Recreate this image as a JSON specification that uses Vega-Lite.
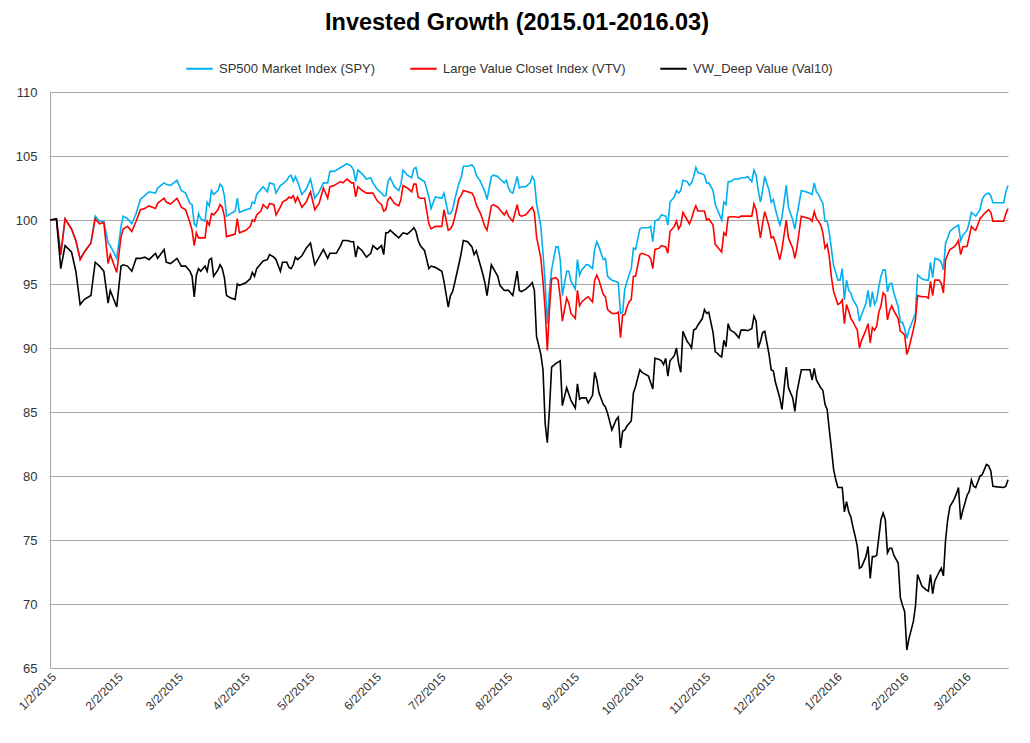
{
"$schema": "https://vega.github.io/schema/vega-lite/v6.json",
"width": 958, "height": 576,
"autosize": {"type": "none"},
"padding": {"left": 50, "top": 92, "right": 22, "bottom": 75},
"background": "white",
"title": {"text": "Invested Growth (2015.01-2016.03)", "font": "Liberation Sans", "fontSize": 23.5, "fontWeight": "bold", "color": "#000000", "anchor": "middle", "offset": 20, "dx": -12},
"data": {"values": [
{"t":"2015-01-02","s":100,"v":100,"d":100},
{"t":"2015-01-05","s":100.05,"v":100.05,"d":100.1},
{"t":"2015-01-07","s":97.3,"v":97.3,"d":96.2},
{"t":"2015-01-09","s":100.1,"v":100.1,"d":98.0},
{"t":"2015-01-12","s":99.3,"v":99.3,"d":97.5},
{"t":"2015-01-14","s":98.4,"v":98.4,"d":96.0},
{"t":"2015-01-16","s":97.0,"v":96.9,"d":93.4},
{"t":"2015-01-18","s":97.5,"v":97.5,"d":93.8},
{"t":"2015-01-21","s":98.2,"v":98.2,"d":94.1},
{"t":"2015-01-23","s":100.3,"v":100.1,"d":96.7},
{"t":"2015-01-25","s":99.9,"v":99.7,"d":96.4},
{"t":"2015-01-27","s":99.9,"v":99.8,"d":96.0},
{"t":"2015-01-29","s":98.2,"v":96.6,"d":93.5},
{"t":"2015-01-30","s":98.0,"v":97.3,"d":94.5},
{"t":"2015-02-02","s":97.0,"v":95.9,"d":93.2},
{"t":"2015-02-04","s":99.5,"v":98.7,"d":96.4},
{"t":"2015-02-05","s":100.3,"v":99.3,"d":96.5},
{"t":"2015-02-07","s":100.1,"v":99.5,"d":96.4},
{"t":"2015-02-09","s":99.7,"v":99.1,"d":96.0},
{"t":"2015-02-11","s":100.5,"v":99.9,"d":97.0},
{"t":"2015-02-13","s":101.6,"v":100.8,"d":97.0},
{"t":"2015-02-15","s":101.9,"v":100.9,"d":97.1},
{"t":"2015-02-17","s":102.2,"v":101.1,"d":96.9},
{"t":"2015-02-20","s":102.1,"v":100.9,"d":97.4},
{"t":"2015-02-21","s":102.5,"v":101.3,"d":97.0},
{"t":"2015-02-24","s":102.9,"v":101.7,"d":97.7},
{"t":"2015-02-25","s":102.8,"v":101.4,"d":96.7},
{"t":"2015-02-27","s":102.7,"v":101.25,"d":96.6},
{"t":"2015-03-02","s":103.1,"v":101.7,"d":97.0},
{"t":"2015-03-04","s":102.3,"v":101.0,"d":96.4},
{"t":"2015-03-06","s":102.1,"v":100.8,"d":96.4},
{"t":"2015-03-08","s":101.3,"v":99.8,"d":96.0},
{"t":"2015-03-09","s":101.2,"v":99.2,"d":95.6},
{"t":"2015-03-10","s":99.7,"v":98.0,"d":94.0},
{"t":"2015-03-11","s":99.5,"v":99.0,"d":95.7},
{"t":"2015-03-12","s":100.5,"v":98.6,"d":96.2},
{"t":"2015-03-13","s":100.1,"v":98.6,"d":96.0},
{"t":"2015-03-15","s":99.9,"v":98.6,"d":96.4},
{"t":"2015-03-16","s":101.4,"v":99.9,"d":96.0},
{"t":"2015-03-17","s":101.1,"v":99.6,"d":96.9},
{"t":"2015-03-18","s":102.3,"v":100.5,"d":97.0},
{"t":"2015-03-19","s":102.0,"v":100.4,"d":95.6},
{"t":"2015-03-21","s":102.3,"v":100.8,"d":96.1},
{"t":"2015-03-22","s":102.8,"v":101.2,"d":96.5},
{"t":"2015-03-23","s":102.6,"v":101.0,"d":96.2},
{"t":"2015-03-24","s":101.9,"v":100.3,"d":95.5},
{"t":"2015-03-25","s":100.3,"v":98.7,"d":94.1},
{"t":"2015-03-27","s":100.5,"v":98.8,"d":93.9},
{"t":"2015-03-29","s":100.7,"v":98.9,"d":93.8},
{"t":"2015-03-30","s":101.7,"v":100.1,"d":95.0},
{"t":"2015-03-31","s":100.6,"v":99.0,"d":94.9},
{"t":"2015-04-03","s":100.8,"v":99.2,"d":95.1},
{"t":"2015-04-05","s":100.9,"v":99.5,"d":95.4},
{"t":"2015-04-06","s":101.4,"v":100.0,"d":95.9},
{"t":"2015-04-07","s":101.3,"v":99.9,"d":95.6},
{"t":"2015-04-08","s":102.0,"v":100.4,"d":96.2},
{"t":"2015-04-10","s":102.4,"v":100.7,"d":96.6},
{"t":"2015-04-11","s":102.6,"v":101.2,"d":96.8},
{"t":"2015-04-13","s":102.2,"v":100.9,"d":96.9},
{"t":"2015-04-14","s":102.9,"v":101.3,"d":97.3},
{"t":"2015-04-16","s":102.8,"v":101.2,"d":97.1},
{"t":"2015-04-17","s":102.1,"v":100.4,"d":96.9},
{"t":"2015-04-19","s":102.7,"v":101.0,"d":96.0},
{"t":"2015-04-20","s":102.8,"v":101.4,"d":96.7},
{"t":"2015-04-22","s":103.1,"v":101.6,"d":96.7},
{"t":"2015-04-23","s":103.4,"v":101.8,"d":96.3},
{"t":"2015-04-24","s":103.5,"v":101.7,"d":96.2},
{"t":"2015-04-25","s":103.0,"v":101.9,"d":96.5},
{"t":"2015-04-26","s":103.4,"v":101.4,"d":97.1},
{"t":"2015-04-27","s":103.0,"v":101.8,"d":96.9},
{"t":"2015-04-29","s":102.0,"v":101.0,"d":97.2},
{"t":"2015-05-01","s":102.4,"v":101.4,"d":97.8},
{"t":"2015-05-03","s":103.2,"v":102.2,"d":98.2},
{"t":"2015-05-05","s":101.7,"v":100.8,"d":96.5},
{"t":"2015-05-07","s":102.2,"v":101.3,"d":97.1},
{"t":"2015-05-09","s":102.9,"v":102.5,"d":97.7},
{"t":"2015-05-11","s":102.9,"v":101.7,"d":97.0},
{"t":"2015-05-12","s":103.8,"v":102.6,"d":97.4},
{"t":"2015-05-14","s":103.8,"v":102.7,"d":97.4},
{"t":"2015-05-15","s":103.9,"v":102.8,"d":97.4},
{"t":"2015-05-17","s":104.1,"v":103.0,"d":98.0},
{"t":"2015-05-18","s":104.2,"v":102.9,"d":98.4},
{"t":"2015-05-20","s":104.4,"v":103.2,"d":98.4},
{"t":"2015-05-22","s":104.2,"v":102.9,"d":98.3},
{"t":"2015-05-23","s":103.9,"v":102.9,"d":98.3},
{"t":"2015-05-24","s":103.0,"v":101.8,"d":97.1},
{"t":"2015-05-25","s":103.9,"v":102.6,"d":97.9},
{"t":"2015-05-27","s":103.6,"v":102.3,"d":97.6},
{"t":"2015-05-29","s":103.2,"v":102.1,"d":97.1},
{"t":"2015-05-31","s":103.3,"v":102.1,"d":97.4},
{"t":"2015-06-01","s":102.9,"v":102.1,"d":98.0},
{"t":"2015-06-03","s":102.4,"v":101.5,"d":97.7},
{"t":"2015-06-05","s":102.1,"v":101.2,"d":98.0},
{"t":"2015-06-06","s":101.9,"v":100.7,"d":97.3},
{"t":"2015-06-07","s":101.9,"v":100.8,"d":99.0},
{"t":"2015-06-08","s":103.0,"v":101.6,"d":99.0},
{"t":"2015-06-09","s":103.3,"v":101.8,"d":99.2},
{"t":"2015-06-11","s":102.6,"v":101.3,"d":98.9},
{"t":"2015-06-13","s":102.3,"v":101.1,"d":98.6},
{"t":"2015-06-14","s":102.8,"v":101.6,"d":98.8},
{"t":"2015-06-15","s":103.9,"v":102.7,"d":99.0},
{"t":"2015-06-17","s":103.5,"v":102.5,"d":98.9},
{"t":"2015-06-19","s":103.3,"v":102.2,"d":99.2},
{"t":"2015-06-20","s":104.0,"v":102.8,"d":99.4},
{"t":"2015-06-21","s":104.1,"v":102.8,"d":99.1},
{"t":"2015-06-22","s":103.3,"v":101.8,"d":98.4},
{"t":"2015-06-23","s":103.2,"v":101.7,"d":98.0},
{"t":"2015-06-25","s":103.0,"v":101.7,"d":97.6},
{"t":"2015-06-27","s":101.8,"v":99.7,"d":96.2},
{"t":"2015-06-28","s":100.9,"v":99.3,"d":96.4},
{"t":"2015-06-30","s":101.8,"v":99.5,"d":96.3},
{"t":"2015-07-03","s":101.7,"v":99.5,"d":96.0},
{"t":"2015-07-04","s":102.1,"v":100.8,"d":95.2},
{"t":"2015-07-06","s":100.5,"v":99.2,"d":93.2},
{"t":"2015-07-07","s":100.5,"v":99.3,"d":94.1},
{"t":"2015-07-08","s":100.8,"v":99.6,"d":94.4},
{"t":"2015-07-09","s":101.6,"v":100.2,"d":95.1},
{"t":"2015-07-11","s":102.9,"v":101.7,"d":96.6},
{"t":"2015-07-12","s":103.3,"v":101.9,"d":97.4},
{"t":"2015-07-13","s":104.2,"v":102.3,"d":98.4},
{"t":"2015-07-15","s":104.2,"v":102.2,"d":98.3},
{"t":"2015-07-17","s":104.3,"v":102.1,"d":97.9},
{"t":"2015-07-18","s":104.1,"v":101.8,"d":97.3},
{"t":"2015-07-19","s":103.5,"v":101.2,"d":97.6},
{"t":"2015-07-21","s":103.0,"v":100.5,"d":96.4},
{"t":"2015-07-22","s":102.6,"v":100.0,"d":95.8},
{"t":"2015-07-23","s":102.2,"v":99.5,"d":95.1},
{"t":"2015-07-24","s":101.6,"v":99.2,"d":94.1},
{"t":"2015-07-26","s":103.4,"v":101.1,"d":96.5},
{"t":"2015-07-27","s":103.5,"v":101.2,"d":96.2},
{"t":"2015-07-29","s":103.4,"v":101.0,"d":95.6},
{"t":"2015-07-30","s":103.2,"v":100.8,"d":94.9},
{"t":"2015-08-01","s":102.9,"v":100.4,"d":94.5},
{"t":"2015-08-02","s":103.1,"v":100.7,"d":94.5},
{"t":"2015-08-03","s":102.5,"v":100.3,"d":94.5},
{"t":"2015-08-04","s":102.2,"v":100.1,"d":94.3},
{"t":"2015-08-05","s":102.1,"v":99.9,"d":94.1},
{"t":"2015-08-07","s":103.4,"v":101.2,"d":96.0},
{"t":"2015-08-08","s":102.5,"v":100.4,"d":94.5},
{"t":"2015-08-09","s":102.6,"v":100.3,"d":94.4},
{"t":"2015-08-11","s":102.6,"v":100.4,"d":94.6},
{"t":"2015-08-13","s":102.9,"v":100.8,"d":94.9},
{"t":"2015-08-14","s":103.4,"v":101.0,"d":95.1},
{"t":"2015-08-15","s":103.1,"v":100.6,"d":94.5},
{"t":"2015-08-16","s":101.3,"v":98.7,"d":90.9},
{"t":"2015-08-18","s":99.5,"v":97.0,"d":89.5},
{"t":"2015-08-19","s":97.4,"v":95.2,"d":88.3},
{"t":"2015-08-20","s":95.1,"v":93.0,"d":84.1},
{"t":"2015-08-21","s":91.9,"v":89.8,"d":82.6},
{"t":"2015-08-22","s":94.5,"v":93.0,"d":85.2},
{"t":"2015-08-23","s":96.1,"v":95.4,"d":88.5},
{"t":"2015-08-25","s":97.9,"v":95.5,"d":88.8},
{"t":"2015-08-26","s":97.9,"v":95.3,"d":88.9},
{"t":"2015-08-27","s":96.9,"v":94.0,"d":89.0},
{"t":"2015-08-28","s":94.1,"v":92.1,"d":85.5},
{"t":"2015-08-30","s":96.0,"v":93.9,"d":86.9},
{"t":"2015-08-31","s":96.0,"v":93.5,"d":86.4},
{"t":"2015-09-01","s":95.2,"v":92.7,"d":85.9},
{"t":"2015-09-03","s":94.6,"v":92.3,"d":85.3},
{"t":"2015-09-04","s":96.9,"v":94.5,"d":87.2},
{"t":"2015-09-05","s":95.7,"v":93.3,"d":86.0},
{"t":"2015-09-06","s":96.1,"v":93.6,"d":86.1},
{"t":"2015-09-08","s":96.5,"v":93.9,"d":86.1},
{"t":"2015-09-09","s":96.5,"v":94.0,"d":85.7},
{"t":"2015-09-11","s":96.2,"v":93.6,"d":86.3},
{"t":"2015-09-12","s":97.7,"v":95.3,"d":88.1},
{"t":"2015-09-13","s":98.3,"v":95.7,"d":87.5},
{"t":"2015-09-14","s":97.9,"v":95.3,"d":86.5},
{"t":"2015-09-16","s":96.9,"v":94.2,"d":85.6},
{"t":"2015-09-17","s":97.0,"v":94.0,"d":85.4},
{"t":"2015-09-18","s":95.6,"v":93.0,"d":84.9},
{"t":"2015-09-20","s":95.3,"v":92.7,"d":83.6},
{"t":"2015-09-22","s":95.2,"v":92.7,"d":84.4},
{"t":"2015-09-23","s":95.1,"v":92.8,"d":84.6},
{"t":"2015-09-24","s":92.7,"v":90.8,"d":82.2},
{"t":"2015-09-25","s":92.8,"v":92.6,"d":83.5},
{"t":"2015-09-26","s":94.6,"v":92.6,"d":83.6},
{"t":"2015-09-27","s":95.2,"v":93.2,"d":83.9},
{"t":"2015-09-28","s":95.7,"v":93.6,"d":84.1},
{"t":"2015-09-29","s":96.2,"v":93.8,"d":84.3},
{"t":"2015-09-30","s":97.8,"v":95.6,"d":86.5},
{"t":"2015-10-01","s":97.7,"v":95.6,"d":87.0},
{"t":"2015-10-03","s":99.3,"v":97.3,"d":88.3},
{"t":"2015-10-04","s":99.4,"v":97.4,"d":88.1},
{"t":"2015-10-07","s":99.4,"v":97.2,"d":87.8},
{"t":"2015-10-08","s":99.5,"v":97.0,"d":87.3},
{"t":"2015-10-09","s":98.3,"v":96.2,"d":86.8},
{"t":"2015-10-10","s":99.9,"v":97.7,"d":89.2},
{"t":"2015-10-12","s":100.1,"v":97.8,"d":89.1},
{"t":"2015-10-13","s":100.4,"v":98.0,"d":89.0},
{"t":"2015-10-14","s":100.35,"v":97.95,"d":88.7},
{"t":"2015-10-15","s":100.3,"v":97.9,"d":89.2},
{"t":"2015-10-16","s":99.6,"v":97.4,"d":87.8},
{"t":"2015-10-17","s":101.4,"v":99.1,"d":89.0},
{"t":"2015-10-19","s":101.8,"v":99.5,"d":89.4},
{"t":"2015-10-20","s":102.3,"v":99.9,"d":90.0},
{"t":"2015-10-21","s":102.1,"v":99.3,"d":88.8},
{"t":"2015-10-22","s":102.3,"v":99.6,"d":88.1},
{"t":"2015-10-23","s":103.1,"v":100.6,"d":91.3},
{"t":"2015-10-25","s":103.0,"v":100.0,"d":90.5},
{"t":"2015-10-26","s":102.7,"v":99.7,"d":90.3},
{"t":"2015-10-27","s":102.9,"v":100.1,"d":90.0},
{"t":"2015-10-28","s":103.4,"v":100.7,"d":91.4},
{"t":"2015-10-29","s":104.1,"v":101.1,"d":91.5},
{"t":"2015-10-30","s":103.7,"v":100.7,"d":91.8},
{"t":"2015-11-01","s":103.6,"v":100.7,"d":92.3},
{"t":"2015-11-02","s":103.5,"v":100.7,"d":93.0},
{"t":"2015-11-03","s":102.9,"v":100.0,"d":92.7},
{"t":"2015-11-04","s":102.9,"v":100.1,"d":92.8},
{"t":"2015-11-06","s":102.3,"v":99.6,"d":91.2},
{"t":"2015-11-07","s":101.2,"v":98.1,"d":89.7},
{"t":"2015-11-08","s":100.8,"v":97.9,"d":89.6},
{"t":"2015-11-09","s":100.4,"v":97.7,"d":89.4},
{"t":"2015-11-10","s":100.0,"v":97.5,"d":89.3},
{"t":"2015-11-11","s":101.4,"v":99.0,"d":90.6},
{"t":"2015-11-12","s":101.2,"v":98.8,"d":90.1},
{"t":"2015-11-13","s":103.0,"v":100.2,"d":91.9},
{"t":"2015-11-14","s":103.0,"v":100.25,"d":91.4},
{"t":"2015-11-16","s":103.2,"v":100.25,"d":91.2},
{"t":"2015-11-18","s":103.2,"v":100.2,"d":90.8},
{"t":"2015-11-19","s":103.3,"v":100.3,"d":91.4},
{"t":"2015-11-21","s":103.3,"v":100.3,"d":91.4},
{"t":"2015-11-22","s":103.4,"v":100.3,"d":91.35},
{"t":"2015-11-24","s":103.0,"v":100.3,"d":91.5},
{"t":"2015-11-25","s":103.9,"v":101.25,"d":92.5},
{"t":"2015-11-26","s":103.5,"v":100.8,"d":92.1},
{"t":"2015-11-27","s":102.3,"v":99.7,"d":90.0},
{"t":"2015-11-28","s":101.4,"v":98.6,"d":90.5},
{"t":"2015-11-29","s":102.3,"v":99.7,"d":91.2},
{"t":"2015-11-30","s":103.4,"v":100.65,"d":91.3},
{"t":"2015-12-02","s":102.3,"v":99.5,"d":89.5},
{"t":"2015-12-03","s":101.4,"v":98.6,"d":88.3},
{"t":"2015-12-04","s":101.6,"v":98.7,"d":88.2},
{"t":"2015-12-05","s":100.8,"v":98.2,"d":87.3},
{"t":"2015-12-07","s":99.6,"v":96.9,"d":86.1},
{"t":"2015-12-08","s":100.2,"v":97.7,"d":85.2},
{"t":"2015-12-10","s":102.7,"v":100.0,"d":88.5},
{"t":"2015-12-11","s":101.0,"v":98.6,"d":86.9},
{"t":"2015-12-13","s":100.0,"v":97.8,"d":86.1},
{"t":"2015-12-14","s":99.3,"v":97.0,"d":85.05},
{"t":"2015-12-15","s":100.4,"v":97.9,"d":86.6},
{"t":"2015-12-17","s":102.3,"v":100.3,"d":88.3},
{"t":"2015-12-19","s":102.2,"v":100.2,"d":88.3},
{"t":"2015-12-21","s":102.1,"v":100.1,"d":88.3},
{"t":"2015-12-22","s":102.0,"v":99.9,"d":87.5},
{"t":"2015-12-23","s":102.9,"v":100.65,"d":88.4},
{"t":"2015-12-24","s":102.2,"v":100.1,"d":87.5},
{"t":"2015-12-25","s":102.0,"v":99.9,"d":87.2},
{"t":"2015-12-26","s":101.6,"v":99.6,"d":86.9},
{"t":"2015-12-27","s":101.3,"v":99.0,"d":86.7},
{"t":"2015-12-28","s":99.9,"v":97.8,"d":85.6},
{"t":"2015-12-29","s":99.9,"v":98.1,"d":85.2},
{"t":"2015-12-30","s":99.0,"v":97.1,"d":83.6},
{"t":"2015-12-31","s":97.7,"v":95.5,"d":82.1},
{"t":"2016-01-01","s":96.4,"v":94.4,"d":80.5},
{"t":"2016-01-02","s":95.9,"v":93.9,"d":79.7},
{"t":"2016-01-03","s":95.3,"v":93.4,"d":79.1},
{"t":"2016-01-04","s":95.3,"v":93.5,"d":79.1},
{"t":"2016-01-05","s":96.2,"v":93.75,"d":79.1},
{"t":"2016-01-06","s":93.75,"v":91.9,"d":77.2},
{"t":"2016-01-07","s":95.3,"v":93.4,"d":78.0},
{"t":"2016-01-08","s":94.5,"v":92.9,"d":77.2},
{"t":"2016-01-09","s":94.3,"v":92.3,"d":76.8},
{"t":"2016-01-10","s":93.75,"v":92.05,"d":76.0},
{"t":"2016-01-11","s":93.5,"v":91.7,"d":75.3},
{"t":"2016-01-12","s":93.2,"v":91.4,"d":74.5},
{"t":"2016-01-13","s":92.1,"v":90.0,"d":72.8},
{"t":"2016-01-14","s":92.6,"v":90.6,"d":72.9},
{"t":"2016-01-16","s":93.5,"v":91.4,"d":73.7},
{"t":"2016-01-17","s":94.5,"v":91.9,"d":74.5},
{"t":"2016-01-18","s":93.2,"v":90.4,"d":72.0},
{"t":"2016-01-19","s":94.4,"v":91.6,"d":73.7},
{"t":"2016-01-20","s":93.4,"v":91.4,"d":73.7},
{"t":"2016-01-21","s":93.75,"v":91.7,"d":73.8},
{"t":"2016-01-22","s":94.8,"v":92.8,"d":75.2},
{"t":"2016-01-23","s":95.6,"v":93.3,"d":76.6},
{"t":"2016-01-24","s":96.1,"v":94.3,"d":77.1},
{"t":"2016-01-25","s":96.1,"v":94.1,"d":76.6},
{"t":"2016-01-26","s":94.4,"v":92.2,"d":74.0},
{"t":"2016-01-27","s":95.0,"v":92.9,"d":74.35},
{"t":"2016-01-28","s":95.05,"v":93.3,"d":74.35},
{"t":"2016-01-29","s":94.3,"v":92.9,"d":73.8},
{"t":"2016-01-31","s":93.2,"v":92.3,"d":73.2},
{"t":"2016-02-01","s":92.0,"v":91.3,"d":70.5},
{"t":"2016-02-02","s":92.0,"v":91.2,"d":69.9},
{"t":"2016-02-03","s":91.5,"v":91.0,"d":69.4},
{"t":"2016-02-04","s":90.75,"v":89.5,"d":66.4},
{"t":"2016-02-05","s":91.4,"v":90.0,"d":67.3},
{"t":"2016-02-07","s":92.25,"v":91.4,"d":68.6},
{"t":"2016-02-08","s":92.7,"v":92.2,"d":69.8},
{"t":"2016-02-09","s":95.7,"v":94.1,"d":72.3},
{"t":"2016-02-11","s":95.4,"v":94.0,"d":71.4},
{"t":"2016-02-13","s":95.3,"v":94.0,"d":71.1},
{"t":"2016-02-14","s":95.3,"v":93.9,"d":71.0},
{"t":"2016-02-15","s":96.7,"v":95.2,"d":72.3},
{"t":"2016-02-16","s":95.5,"v":94.1,"d":70.8},
{"t":"2016-02-17","s":97.0,"v":95.3,"d":71.8},
{"t":"2016-02-19","s":96.9,"v":95.3,"d":72.5},
{"t":"2016-02-20","s":96.7,"v":95.05,"d":72.8},
{"t":"2016-02-21","s":96.1,"v":94.3,"d":72.2},
{"t":"2016-02-22","s":98.2,"v":96.9,"d":75.0},
{"t":"2016-02-23","s":98.6,"v":97.3,"d":76.6},
{"t":"2016-02-24","s":99.1,"v":97.7,"d":77.6},
{"t":"2016-02-26","s":99.4,"v":97.9,"d":78.2},
{"t":"2016-02-27","s":99.5,"v":98.1,"d":78.6},
{"t":"2016-02-28","s":99.6,"v":98.4,"d":79.1},
{"t":"2016-02-29","s":98.4,"v":97.3,"d":76.6},
{"t":"2016-03-01","s":98.8,"v":97.9,"d":77.3},
{"t":"2016-03-03","s":99.2,"v":97.95,"d":78.5},
{"t":"2016-03-04","s":99.8,"v":98.7,"d":78.8},
{"t":"2016-03-05","s":100.6,"v":99.5,"d":79.7},
{"t":"2016-03-06","s":100.45,"v":99.3,"d":79.2},
{"t":"2016-03-07","s":100.3,"v":99.2,"d":79.1},
{"t":"2016-03-09","s":100.8,"v":100.1,"d":80.0},
{"t":"2016-03-10","s":101.6,"v":100.3,"d":80.1},
{"t":"2016-03-11","s":101.9,"v":100.5,"d":80.5},
{"t":"2016-03-12","s":102.05,"v":100.65,"d":80.9},
{"t":"2016-03-13","s":102.1,"v":100.8,"d":80.8},
{"t":"2016-03-14","s":101.9,"v":100.6,"d":80.4},
{"t":"2016-03-15","s":101.35,"v":99.9,"d":79.2},
{"t":"2016-03-17","s":101.35,"v":99.9,"d":79.15},
{"t":"2016-03-20","s":101.35,"v":99.9,"d":79.1},
{"t":"2016-03-21","s":102.2,"v":100.5,"d":79.2},
{"t":"2016-03-22","s":102.7,"v":100.9,"d":79.7}
]},
"transform": [{"fold": ["s", "v", "d"], "as": ["series", "value"]}],
"mark": {"type": "line", "strokeWidth": 1.6},
"encoding": {
  "x": {"field": "t", "type": "temporal",
    "scale": {"type": "utc", "domain": [{"year": 2015, "month": 1, "date": 2, "utc": true}, {"year": 2016, "month": 3, "date": 22, "utc": true}]},
    "axis": {"title": null, "format": "%-m/%-d/%Y", "labelAngle": -45, "labelAlign": "right", "labelBaseline": "top", "labelFont": "Liberation Sans", "labelFontSize": 12, "labelColor": "#333333", "labelPadding": 3, "ticks": false, "grid": false, "domainColor": "#a6a6a6", "labelOverlap": false, "labelFlush": false, "labelBound": false,
      "values": [
        {"year": 2015, "month": 1, "date": 2, "utc": true},
        {"year": 2015, "month": 2, "date": 2, "utc": true},
        {"year": 2015, "month": 3, "date": 2, "utc": true},
        {"year": 2015, "month": 4, "date": 2, "utc": true},
        {"year": 2015, "month": 5, "date": 2, "utc": true},
        {"year": 2015, "month": 6, "date": 2, "utc": true},
        {"year": 2015, "month": 7, "date": 2, "utc": true},
        {"year": 2015, "month": 8, "date": 2, "utc": true},
        {"year": 2015, "month": 9, "date": 2, "utc": true},
        {"year": 2015, "month": 10, "date": 2, "utc": true},
        {"year": 2015, "month": 11, "date": 2, "utc": true},
        {"year": 2015, "month": 12, "date": 2, "utc": true},
        {"year": 2016, "month": 1, "date": 2, "utc": true},
        {"year": 2016, "month": 2, "date": 2, "utc": true},
        {"year": 2016, "month": 3, "date": 2, "utc": true}
      ]}},
  "y": {"field": "value", "type": "quantitative",
    "scale": {"domain": [65, 110], "nice": false, "zero": false},
    "axis": {"title": null, "values": [65, 70, 75, 80, 85, 90, 95, 100, 105, 110], "grid": true, "gridColor": "#a6a6a6", "gridWidth": 1, "domain": true, "domainColor": "#a6a6a6", "ticks": false, "labelFont": "Liberation Sans", "labelFontSize": 13, "labelColor": "#333333", "labelPadding": 13}},
  "color": {"field": "series", "type": "nominal",
    "scale": {"domain": ["s", "v", "d"], "range": ["#00B0F0", "#FF0000", "#000000"]},
    "legend": {"title": null, "orient": "none", "legendX": 135, "legendY": -38, "direction": "horizontal", "symbolType": "stroke", "symbolSize": 700, "symbolStrokeWidth": 2, "labelFont": "Liberation Sans", "labelFontSize": 13, "labelColor": "#333333", "labelOffset": 5, "labelLimit": 400, "columnPadding": 30,
      "labelExpr": "datum.label == 's' ? 'SP500 Market Index (SPY)' : datum.label == 'v' ? 'Large Value Closet Index (VTV)' : 'VW_Deep Value (Val10)'"}}
},
"config": {"view": {"stroke": null}, "font": "Liberation Sans"}
}
